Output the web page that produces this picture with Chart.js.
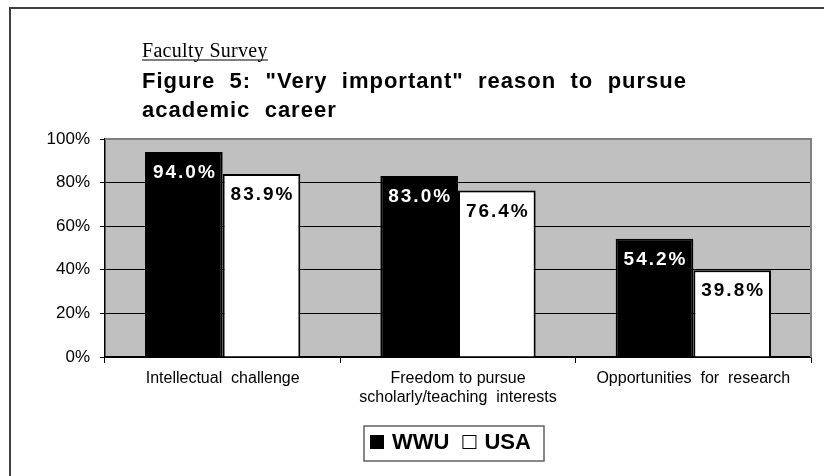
<!DOCTYPE html>
<html>
<head>
<meta charset="utf-8">
<script src="https://cdn.jsdelivr.net/npm/chart.js@4.4.1/dist/chart.umd.min.js"></script>
<style>
  html, body { margin: 0; padding: 0; background: #fff; }
  #wrap { width: 824px; height: 476px; position: relative; }
</style>
</head>
<body>
<div id="wrap"><canvas id="chart" width="824" height="476"></canvas></div>
<script>
// chart data
const categories = [
    ['Intellectual  challenge'],
    ['Freedom to pursue', 'scholarly/teaching  interests'],
    ['Opportunities  for  research']
];
const seriesNames = ['WWU', 'USA'];
const wwuValues = [94.0, 83.0, 54.2];
const usaValues = [83.9, 76.4, 39.8];
const yTickLabels = ['0%', '20%', '40%', '60%', '80%', '100%'];
const subtitleText = 'Faculty Survey';
const titleLines = ['Figure 5: "Very important" reason to pursue', 'academic career'];

const SANS = "'Liberation Sans', Arial, sans-serif";
const SERIF = "'Liberation Serif', 'Times New Roman', serif";

// background, outer frame and grey plot area
const backdrop = {
    id: 'backdrop',
    beforeDraw(chart) {
        const { ctx, chartArea: a } = chart;
        ctx.save();
        ctx.fillStyle = '#fff';
        ctx.fillRect(0, 0, chart.width, chart.height);
        ctx.strokeStyle = '#404040';
        ctx.lineWidth = 2;
        ctx.beginPath();
        ctx.moveTo(10, chart.height);
        ctx.lineTo(10, 8);
        ctx.lineTo(chart.width, 8);
        ctx.stroke();
        ctx.fillStyle = '#c0c0c0';
        ctx.fillRect(a.left, a.top, a.right - a.left, a.bottom - a.top);
        ctx.restore();
    },
    beforeDatasetsDraw(chart) {
        const { ctx, chartArea: a } = chart;
        ctx.save();
        ctx.strokeStyle = '#808080';
        ctx.lineWidth = 2;
        ctx.beginPath();
        ctx.moveTo(a.left, a.top);
        ctx.lineTo(a.right, a.top);
        ctx.lineTo(a.right, a.bottom);
        ctx.stroke();
        ctx.restore();
    }
};

// subtitle + justified bold title
const headings = {
    id: 'headings',
    afterDraw(chart) {
        const ctx = chart.ctx;
        const left = 142, right = 687;
        ctx.save();
        ctx.fillStyle = '#000';
        ctx.textBaseline = 'alphabetic';
        ctx.textAlign = 'left';

        ctx.font = '20px ' + SERIF;
        ctx.letterSpacing = '0.3px';
        ctx.fillText(subtitleText, left, 57);
        const sw = ctx.measureText(subtitleText).width;
        ctx.fillRect(left, 59.5, sw, 1);

        ctx.font = 'bold 22px ' + SANS;
        ctx.letterSpacing = '1px';
        const words = titleLines[0].split(' ');
        const widths = words.map(w => ctx.measureText(w).width);
        const total = widths.reduce((s, w) => s + w, 0);
        const gap = (right - left - total) / (words.length - 1);
        let x = left;
        words.forEach((w, i) => {
            ctx.fillText(w, x, 88);
            x += widths[i] + gap;
        });
        x = left;
        titleLines[1].split(' ').forEach(w => {
            ctx.fillText(w, x, 117);
            x += ctx.measureText(w).width + gap;
        });
        ctx.restore();
    }
};

// value labels inside the top of each bar
const barLabels = {
    id: 'barLabels',
    afterDatasetsDraw(chart) {
        const ctx = chart.ctx;
        ctx.save();
        ctx.font = 'bold 19px ' + SANS;
        ctx.letterSpacing = '2px';
        ctx.textAlign = 'center';
        ctx.textBaseline = 'middle';
        chart.data.datasets.forEach((ds, di) => {
            ctx.fillStyle = di === 0 ? '#fff' : '#000';
            chart.getDatasetMeta(di).data.forEach((bar, i) => {
                ctx.fillText(ds.data[i].toFixed(1) + '%', bar.x + 1, bar.y + 21);
            });
        });
        ctx.restore();
    }
};

// boxed legend under the axis
const boxLegend = {
    id: 'boxLegend',
    afterDraw(chart) {
        const ctx = chart.ctx;
        ctx.save();
        ctx.strokeStyle = '#606060';
        ctx.lineWidth = 1.5;
        ctx.strokeRect(364, 426, 180, 35);
        ctx.font = 'bold 22px ' + SANS;
        ctx.textBaseline = 'alphabetic';
        let x = 370;
        chart.data.datasets.forEach(ds => {
            ctx.fillStyle = ds.backgroundColor;
            ctx.fillRect(x, 435, 14, 14);
            ctx.strokeStyle = '#000';
            ctx.lineWidth = 1;
            ctx.strokeRect(x + 0.5, 435.5, 13, 13);
            ctx.fillStyle = '#000';
            ctx.fillText(ds.label, x + 22, 449);
            x += 22 + ctx.measureText(ds.label).width + 13;
        });
        ctx.restore();
    }
};

const ctx = document.getElementById('chart').getContext('2d');
new Chart(ctx, {
    type: 'bar',
    data: {
        labels: categories,
        datasets: [{
            label: seriesNames[0],
            data: wwuValues,
            backgroundColor: '#000',
            borderColor: '#000',
            borderWidth: 2
        }, {
            label: seriesNames[1],
            data: usaValues,
            backgroundColor: '#fff',
            borderColor: '#000',
            borderWidth: 2
        }]
    },
    options: {
        responsive: false,
        animation: false,
        devicePixelRatio: 1,
        layout: { padding: { top: 139, right: 13, left: 0, bottom: 0 } },
        datasets: { bar: { categoryPercentage: 0.66, barPercentage: 1 } },
        plugins: {
            legend: { display: false },
            title: { display: false },
            tooltip: { enabled: false }
        },
        scales: {
            x: {
                afterFit: s => { s.height = 119; },
                grid: { offset: true, drawOnChartArea: false, tickColor: '#000', tickLength: 6 },
                border: { color: '#000', width: 1.5 },
                ticks: { color: '#000', font: { family: SANS, size: 16 }, padding: 6, maxRotation: 0 }
            },
            y: {
                min: 0,
                max: 100,
                afterFit: s => { s.width = 105; },
                grid: {
                    color: c => c.tick && c.tick.value === 100 ? '#808080' : '#000',
                    lineWidth: 1,
                    tickColor: '#000',
                    tickLength: 5
                },
                border: { color: '#000', width: 1.5 },
                ticks: {
                    stepSize: 20,
                    color: '#000',
                    padding: 10,
                    font: { family: SANS, size: 17 },
                    callback: (v, i) => yTickLabels[i]
                }
            }
        }
    },
    plugins: [backdrop, headings, barLabels, boxLegend]
});
</script>
</body>
</html>
